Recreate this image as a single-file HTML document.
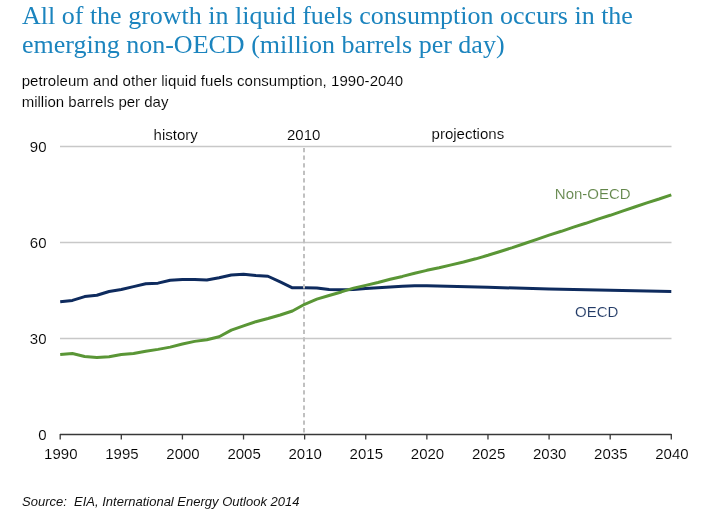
<!DOCTYPE html>
<html><head><meta charset="utf-8"><style>
html,body{margin:0;padding:0;background:#fff;width:713px;height:511px;overflow:hidden}
svg{display:block;will-change:transform}
text{font-family:"Liberation Sans",sans-serif}
.thin text,text.thin{stroke:#fff;stroke-width:0.12px;paint-order:normal}
.ser{font-family:"Liberation Serif",serif}
</style></head><body>
<svg width="713" height="511" viewBox="0 0 713 511">
<rect width="713" height="511" fill="#fff"/>
<g class="ser" fill="#1b84be" font-size="26">
<text class="ser" x="22" y="23.8">All of the growth in liquid fuels consumption occurs in the</text>
<text class="ser" x="22" y="53.3">emerging non-OECD (million barrels per day)</text>
</g>
<g class="thin" fill="#000" font-size="15">
<text x="21.7" y="86" textLength="381.5" lengthAdjust="spacing">petroleum and other liquid fuels consumption, 1990-2040</text>
<text x="21.7" y="106.5">million barrels per day</text>
<text x="153.6" y="139.5">history</text>
<text x="287" y="139.5">2010</text>
<text x="431.6" y="139.2">projections</text>
</g>
<line x1="60" y1="338.5" x2="671.5" y2="338.5" stroke="#c8c8c8" stroke-width="1.5"/>
<line x1="60" y1="242.5" x2="671.5" y2="242.5" stroke="#c8c8c8" stroke-width="1.5"/>
<line x1="60" y1="146.5" x2="671.5" y2="146.5" stroke="#c8c8c8" stroke-width="1.5"/>

<path d="M60.20,301.70 C60.20,301.70 72.42,300.42 72.42,300.42 C72.42,300.42 84.64,296.58 84.64,296.58 C84.64,296.58 96.87,295.30 96.87,295.30 C96.87,295.30 109.09,291.46 109.09,291.46 C109.09,291.46 121.31,289.54 121.31,289.54 C121.31,289.54 133.53,286.66 133.53,286.66 C133.53,286.66 145.75,283.78 145.75,283.78 C145.75,283.78 157.98,283.14 157.98,283.14 C157.98,283.14 170.20,280.26 170.20,280.26 C170.20,280.26 182.42,279.62 182.42,279.62 C182.42,279.62 194.64,279.62 194.64,279.62 C194.64,279.62 206.86,279.94 206.86,279.94 C206.86,279.94 219.09,277.70 219.09,277.70 C219.09,277.70 231.31,274.98 231.31,274.98 C231.31,274.98 243.53,274.34 243.53,274.34 C243.53,274.34 255.75,275.46 255.75,275.46 C255.75,275.46 267.97,276.26 267.97,276.26 C267.97,276.26 280.20,281.86 280.20,281.86 C280.20,281.86 292.42,287.78 292.42,287.78 C292.42,287.78 304.64,287.78 304.64,287.78 C304.64,287.78 316.86,287.94 316.86,287.94 C316.86,287.94 329.08,289.54 329.08,289.54 C329.08,289.54 341.31,289.86 341.31,289.86 C341.31,289.86 353.53,289.54 353.53,289.54 C353.53,289.54 365.75,288.58 365.75,288.58 C365.75,288.58 377.97,287.78 377.97,287.78 C377.97,287.78 390.19,286.98 390.19,286.98 C390.19,286.98 402.42,286.34 402.42,286.34 C402.42,286.34 414.64,285.86 414.64,285.86 C414.64,285.86 426.86,285.70 426.86,285.70 C426.86,285.70 487.97,287.30 487.97,287.30 C487.97,287.30 549.08,288.90 549.08,288.90 C549.08,288.90 610.19,290.18 610.19,290.18 C610.19,290.18 671.30,291.46 671.30,291.46" fill="none" stroke="#0e2b5e" stroke-width="3.0" stroke-linejoin="round" stroke-linecap="butt"/>
<line x1="304" y1="148" x2="304" y2="434" stroke="#c0c0c0" stroke-width="2" stroke-dasharray="4.3 3.27"/>
<path d="M60.20,354.50 C60.20,354.50 72.42,353.54 72.42,353.54 C72.42,353.54 84.64,356.42 84.64,356.42 C84.64,356.42 96.87,357.38 96.87,357.38 C96.87,357.38 109.09,356.74 109.09,356.74 C109.09,356.74 121.31,354.50 121.31,354.50 C121.31,354.50 133.53,353.54 133.53,353.54 C133.53,353.54 145.75,351.30 145.75,351.30 C145.75,351.30 157.98,349.38 157.98,349.38 C157.98,349.38 170.20,347.14 170.20,347.14 C170.20,347.14 182.42,343.94 182.42,343.94 C182.42,343.94 194.64,341.38 194.64,341.38 C194.64,341.38 206.86,339.78 206.86,339.78 C206.86,339.78 219.09,336.74 219.09,336.74 C219.09,336.74 231.31,330.18 231.31,330.18 C231.31,330.18 243.53,325.86 243.53,325.86 C243.53,325.86 255.75,321.70 255.75,321.70 C255.75,321.70 267.97,318.50 267.97,318.50 C267.97,318.50 280.20,314.98 280.20,314.98 C280.20,314.98 292.42,310.98 292.42,310.98 C292.42,310.98 304.64,304.26 304.64,304.26 C304.64,304.26 316.86,299.14 316.86,299.14 C316.86,299.14 329.08,295.46 329.08,295.46 C329.08,295.46 341.31,291.94 341.31,291.94 C341.31,291.94 353.53,288.10 353.53,288.10 C353.53,288.10 365.75,285.38 365.75,285.38 C365.75,285.38 377.97,282.50 377.97,282.50 C377.97,282.50 390.19,279.30 390.19,279.30 C390.19,279.30 402.42,276.42 402.42,276.42 C402.42,276.42 414.64,273.22 414.64,273.22 C414.64,273.22 426.86,270.34 426.86,270.34 C426.86,270.34 439.08,267.78 439.08,267.78 C439.08,267.78 451.30,264.90 451.30,264.90 C451.30,264.90 463.53,262.02 463.53,262.02 C463.53,262.02 475.75,258.82 475.75,258.82 C475.75,258.82 487.97,255.30 487.97,255.30 C487.97,255.30 500.19,251.46 500.19,251.46 C500.19,251.46 512.41,247.62 512.41,247.62 C512.41,247.62 524.64,243.46 524.64,243.46 C524.64,243.46 536.86,239.30 536.86,239.30 C536.86,239.30 549.08,235.14 549.08,235.14 C549.08,235.14 561.30,231.30 561.30,231.30 C561.30,231.30 573.52,227.14 573.52,227.14 C573.52,227.14 585.75,223.30 585.75,223.30 C585.75,223.30 597.97,219.14 597.97,219.14 C597.97,219.14 610.19,215.30 610.19,215.30 C610.19,215.30 622.41,211.14 622.41,211.14 C622.41,211.14 634.63,206.98 634.63,206.98 C634.63,206.98 646.86,202.82 646.86,202.82 C646.86,202.82 659.08,198.98 659.08,198.98 C659.08,198.98 671.30,194.82 671.30,194.82" fill="none" stroke="#5a9636" stroke-width="3.0" stroke-linejoin="round" stroke-linecap="butt"/>
<line x1="60" y1="434.5" x2="671.5" y2="434.5" stroke="#383838" stroke-width="1.4"/>
<line x1="60.2" y1="434" x2="60.2" y2="439.5" stroke="#383838" stroke-width="1.3"/>
<line x1="121.31" y1="434" x2="121.31" y2="439.5" stroke="#383838" stroke-width="1.3"/>
<line x1="182.42" y1="434" x2="182.42" y2="439.5" stroke="#383838" stroke-width="1.3"/>
<line x1="243.52999999999997" y1="434" x2="243.52999999999997" y2="439.5" stroke="#383838" stroke-width="1.3"/>
<line x1="304.64" y1="434" x2="304.64" y2="439.5" stroke="#383838" stroke-width="1.3"/>
<line x1="365.74999999999994" y1="434" x2="365.74999999999994" y2="439.5" stroke="#383838" stroke-width="1.3"/>
<line x1="426.8599999999999" y1="434" x2="426.8599999999999" y2="439.5" stroke="#383838" stroke-width="1.3"/>
<line x1="487.9699999999999" y1="434" x2="487.9699999999999" y2="439.5" stroke="#383838" stroke-width="1.3"/>
<line x1="549.0799999999999" y1="434" x2="549.0799999999999" y2="439.5" stroke="#383838" stroke-width="1.3"/>
<line x1="610.1899999999999" y1="434" x2="610.1899999999999" y2="439.5" stroke="#383838" stroke-width="1.3"/>
<line x1="671.3" y1="434" x2="671.3" y2="439.5" stroke="#383838" stroke-width="1.3"/>

<g class="thin" fill="#000" font-size="15">
<text x="46.5" y="439.9" text-anchor="end">0</text>
<text x="46.5" y="343.9" text-anchor="end">30</text>
<text x="46.5" y="247.9" text-anchor="end">60</text>
<text x="46.5" y="151.9" text-anchor="end">90</text>
<text x="60.8" y="458.8" text-anchor="middle">1990</text>
<text x="121.9" y="458.8" text-anchor="middle">1995</text>
<text x="183.0" y="458.8" text-anchor="middle">2000</text>
<text x="244.1" y="458.8" text-anchor="middle">2005</text>
<text x="305.2" y="458.8" text-anchor="middle">2010</text>
<text x="366.3" y="458.8" text-anchor="middle">2015</text>
<text x="427.5" y="458.8" text-anchor="middle">2020</text>
<text x="488.6" y="458.8" text-anchor="middle">2025</text>
<text x="549.7" y="458.8" text-anchor="middle">2030</text>
<text x="610.8" y="458.8" text-anchor="middle">2035</text>
<text x="671.9" y="458.8" text-anchor="middle">2040</text>
</g>
<text class="thin" x="554.8" y="198.8" font-size="15" fill="#62864a">Non-OECD</text>
<text class="thin" x="575" y="316.7" font-size="15" fill="#223a66">OECD</text>
<text x="22" y="505.5" font-size="13" font-style="italic" fill="#111" style="white-space:pre">Source:  EIA, International Energy Outlook 2014</text>
</svg>
</body></html>
